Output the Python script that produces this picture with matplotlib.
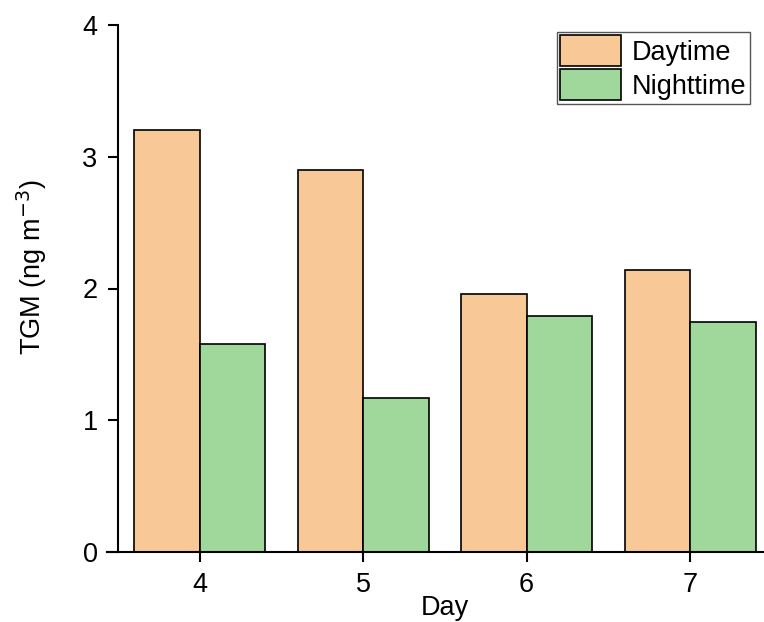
import matplotlib.pyplot as plt
import numpy as np

plt.rcParams['font.family'] = ['Liberation Sans', 'DejaVu Sans']

days = [4, 5, 6, 7]
daytime = [3.20, 2.90, 1.96, 2.14]
nighttime = [1.58, 1.17, 1.79, 1.745]

fig = plt.figure(figsize=(7.64, 6.22), dpi=100)
ax = fig.add_axes([107 / 764, 70 / 622, 665 / 764, 527 / 622])

x = np.array(days)
w = 0.4
ax.bar(x - w / 2, daytime, width=w, color='#F9C897', edgecolor='black', linewidth=1.2, label='Daytime')
ax.bar(x + w / 2, nighttime, width=w, color='#A0D89C', edgecolor='black', linewidth=1.2, label='Nighttime')

ax.set_xlim(3.434, 7.5)
ax.set_ylim(0, 4)
ax.set_xticks(days)
ax.set_yticks([0, 1, 2, 3, 4])
ax.spines['left'].set_position(('data', 3.5))
ax.spines['top'].set_visible(False)
ax.spines['right'].set_visible(False)
for s in ['left', 'bottom']:
    ax.spines[s].set_linewidth(1.5)
ax.tick_params(direction='out', length=7.5, width=1.5, pad=7, labelsize=19.5)

ax.set_xlabel('Day', fontsize=19.5)
ax.set_ylabel('TGM (ng m$^{-3}$)', fontsize=19.5)
ax.xaxis.set_label_coords(0.508, -0.082)
ax.yaxis.set_label_coords(-0.113, 0.54)
ax.yaxis.label.set_va('center')

leg = ax.legend(loc='upper left', bbox_to_anchor=(0.677, 0.987), fontsize=19.5,
                fancybox=False, edgecolor='#555555', framealpha=1, borderpad=0.12,
                handlelength=2.25, handleheight=1.4, handletextpad=0.4, labelspacing=0.1,
                borderaxespad=0)
leg.get_frame().set_linewidth(1.0)

plt.savefig('out.png', dpi=100)
